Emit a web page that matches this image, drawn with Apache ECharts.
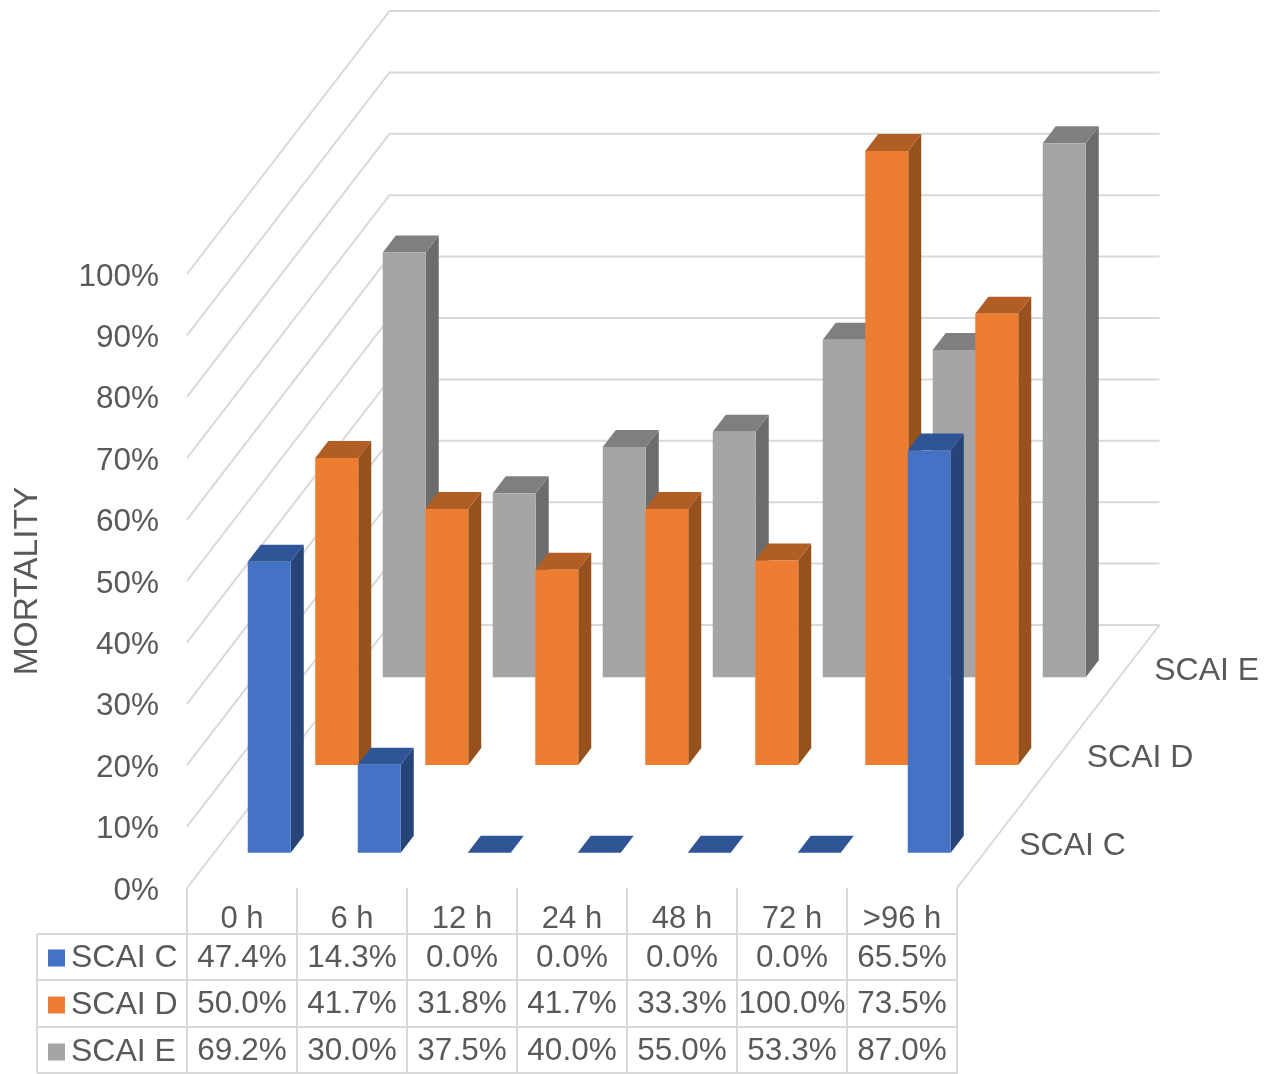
<!DOCTYPE html>
<html>
<head>
<meta charset="utf-8">
<title>Mortality by SCAI stage and time to treatment</title>
<script src="https://cdn.jsdelivr.net/npm/echarts@6/dist/echarts.min.js"></script>
<style>
  html, body { margin: 0; padding: 0; background: #ffffff; }
  #chart { width: 1273px; height: 1074px; }
</style>
</head>
<body>
<div id="chart"></div>
<script>
const categories = ['0 h', '6 h', '12 h', '24 h', '48 h', '72 h', '>96 h'];
const scaiC = [47.4, 14.3, 0.0, 0.0, 0.0, 0.0, 65.5];
const scaiD = [50.0, 41.7, 31.8, 41.7, 33.3, 100.0, 73.5];
const scaiE = [69.2, 30.0, 37.5, 40.0, 55.0, 53.3, 87.0];
const gridTicks = [0, 10, 20, 30, 40, 50, 60, 70, 80, 90, 100];

// Oblique projection of the floor: full depth of the box, and the size of a bar.
const DEPTH_X = 202.5, DEPTH_Y = 263, ROWS = 3;
const BAR_W = 43, BAR_DX = 13, BAR_DY = 17;

const TEXT = '#595959', RULE = '#d9d9d9';
const FAMILY = '"Liberation Sans", Arial, sans-serif';
const CELL_FONT = '31.5px ' + FAMILY;
const DEPTH_FONT = '32px ' + FAMILY;

const chart = echarts.init(document.getElementById('chart'), null, { renderer: 'canvas' });

function slot(row) {
  return { x: DEPTH_X * (row + 0.5) / ROWS, y: -DEPTH_Y * (row + 0.5) / ROWS };
}

// One extruded column per data item, plus its table cell below the plot.
function barSeries(name, row, values, colors, tableY) {
  return {
    name,
    type: 'custom',
    coordinateSystem: 'cartesian2d',
    clip: false,
    itemStyle: { color: colors.front },
    encode: { x: 0, y: 1 },
    data: values.map((v, i) => [i, v]),
    renderItem(params, api) {
      const i = api.value(0), v = api.value(1);
      const top = api.coord([i, v]), base = api.coord([i, 0]);
      const s = slot(row);
      const x0 = top[0] + s.x - BAR_DX / 2 - BAR_W / 2, x1 = x0 + BAR_W;
      const yb = base[1] + s.y + BAR_DY / 2, yt = top[1] + s.y + BAR_DY / 2;
      const face = (points, fill) => ({ type: 'polygon', shape: { points }, style: { fill } });
      const children = [
        face([[x1, yb], [x1 + BAR_DX, yb - BAR_DY], [x1 + BAR_DX, yt - BAR_DY], [x1, yt]], colors.side),
        face([[x0, yt], [x1, yt], [x1 + BAR_DX, yt - BAR_DY], [x0 + BAR_DX, yt - BAR_DY]], colors.top),
        face([[x0, yb], [x1, yb], [x1, yt], [x0, yt]], colors.front),
        {
          type: 'text',
          style: { text: v.toFixed(1) + '%', x: base[0], y: tableY, font: CELL_FONT, fill: TEXT, align: 'center', verticalAlign: 'middle' }
        }
      ];
      // Depth axis label, to the right of the floor edge at this row.
      if (i === categories.length - 1) {
        const edgeX = base[0] + api.size([1, 0])[0] / 2;
        children.push({
          type: 'text',
          style: { text: name, x: edgeX + s.x + 28.5, y: base[1] + s.y + 2, font: DEPTH_FONT, fill: TEXT, align: 'left', verticalAlign: 'middle' }
        });
      }
      return { type: 'group', children };
    }
  };
}

// Side-wall and back-wall gridlines, plus the right floor edge.
const wallSeries = {
  name: 'walls',
  type: 'custom',
  coordinateSystem: 'cartesian2d',
  clip: false,
  silent: true,
  encode: { y: 0 },
  data: gridTicks.map(v => [v]),
  renderItem(params, api) {
    const v = api.value(0);
    const half = api.size([1, 0])[0] / 2;
    const a = api.coord([0, v]), b = api.coord([categories.length - 1, v]);
    const left = a[0] - half, right = b[0] + half, y = a[1];
    const lineStyle = { stroke: RULE, lineWidth: 2, fill: null };
    const children = [{
      type: 'polyline',
      shape: { points: [[left, y], [left + DEPTH_X, y - DEPTH_Y], [right + DEPTH_X, y - DEPTH_Y]] },
      style: lineStyle
    }];
    if (v === 0) {
      children.push({
        type: 'line',
        shape: { x1: right, y1: y, x2: right + DEPTH_X, y2: y - DEPTH_Y },
        style: lineStyle
      });
    }
    return { type: 'group', children };
  }
};

// Horizontal rules and left border of the data table.
const TABLE_LEFT = 37, TABLE_RIGHT = 957, TABLE_ROWS = [934, 980, 1027, 1073];
const tableRules = TABLE_ROWS.map(y => ({
  type: 'line', silent: true,
  shape: { x1: TABLE_LEFT, y1: y, x2: TABLE_RIGHT, y2: y },
  style: { stroke: RULE, lineWidth: 2 }
})).concat([{
  type: 'line', silent: true,
  shape: { x1: TABLE_LEFT, y1: TABLE_ROWS[0], x2: TABLE_LEFT, y2: TABLE_ROWS[3] },
  style: { stroke: RULE, lineWidth: 2 }
}]);

chart.setOption({
  animation: false,
  backgroundColor: '#ffffff',
  textStyle: { fontFamily: FAMILY },
  grid: { left: 187, top: 274, width: 770, height: 614, containLabel: false, outerBoundsMode: 'none' },
  legend: {
    data: ['SCAI C', 'SCAI D', 'SCAI E'],
    orient: 'vertical',
    left: 48,
    top: 942,
    itemWidth: 17,
    itemHeight: 17,
    itemGap: 15,
    padding: 0,
    icon: 'rect',
    selectedMode: false,
    textStyle: { fontSize: 32, color: TEXT, lineHeight: 30, padding: [0, 0, 0, 1] }
  },
  xAxis: {
    type: 'category',
    data: categories,
    boundaryGap: true,
    axisLine: { show: false },
    axisTick: { show: true, alignWithLabel: false, interval: 0, length: 186, lineStyle: { color: RULE, width: 2 } },
    axisLabel: { show: true, interval: 0, margin: 16, fontSize: 31, color: TEXT },
    splitLine: { show: false }
  },
  yAxis: {
    type: 'value',
    min: 0,
    max: 100,
    interval: 10,
    name: 'MORTALITY',
    nameLocation: 'middle',
    nameRotate: 90,
    nameGap: 142,
    nameTextStyle: { fontSize: 33.5, color: TEXT },
    axisLine: { show: false },
    axisTick: { show: false },
    splitLine: { show: false },
    axisLabel: { margin: 28, fontSize: 31.5, color: TEXT, lineHeight: 38, verticalAlign: 'top', padding: [-16, 0, 0, 0], formatter: '{value}%' }
  },
  series: [
    wallSeries,
    barSeries('SCAI E', 2, scaiE, { front: '#a5a5a5', side: '#6c6c6c', top: '#7f7f7f' }, 1051),
    barSeries('SCAI D', 1, scaiD, { front: '#ed7d31', side: '#96511d', top: '#b15e25' }, 1004),
    barSeries('SCAI C', 0, scaiC, { front: '#4472c4', side: '#264478', top: '#2f5597' }, 958)
  ],
  graphic: tableRules
});
</script>
</body>
</html>
